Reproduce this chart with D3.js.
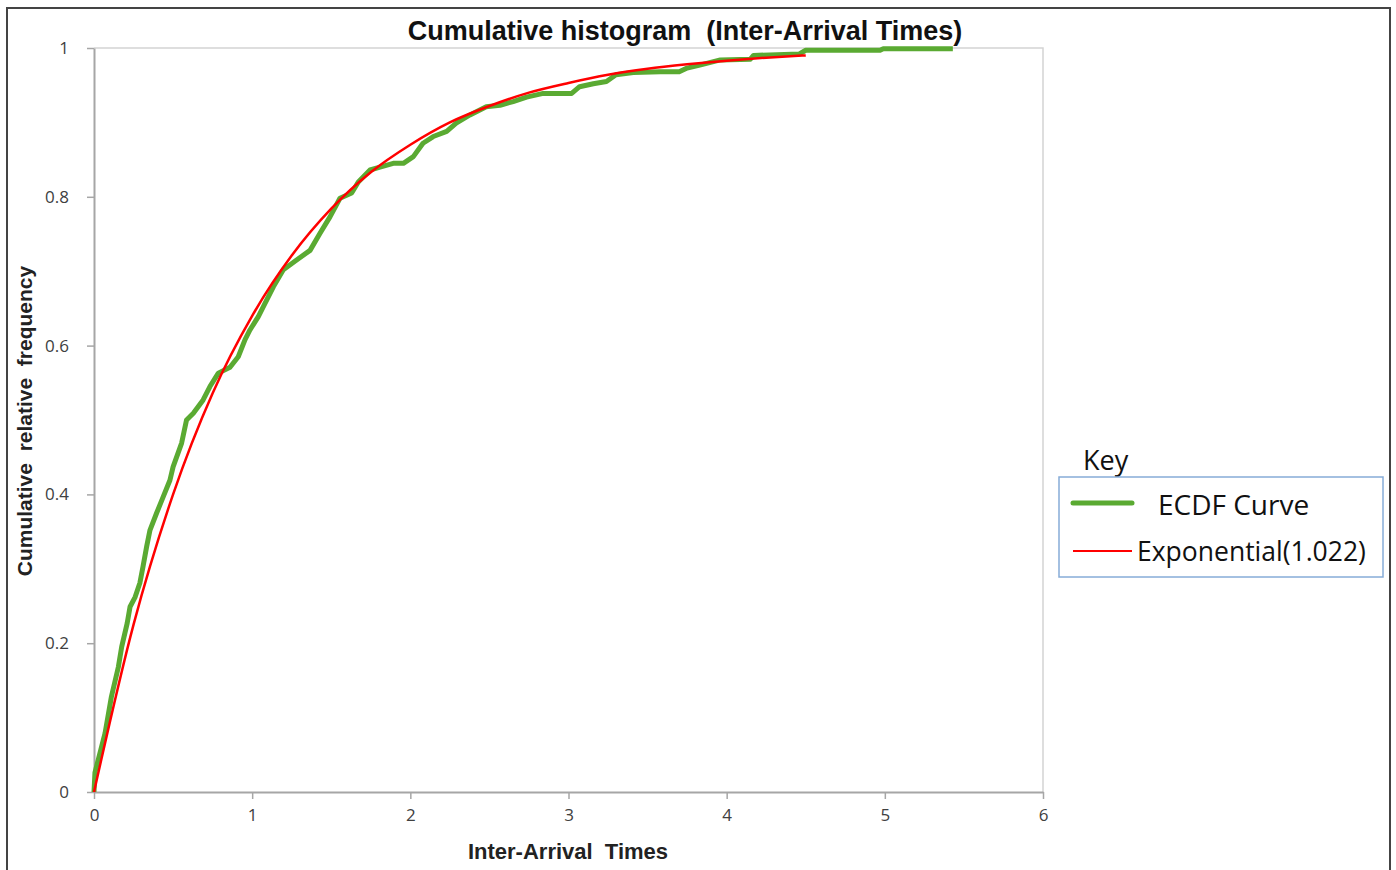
<!DOCTYPE html>
<html>
<head>
<meta charset="utf-8">
<script src="https://cdn.jsdelivr.net/npm/d3@7"></script>
<style>
  body { margin: 0; background: #fff; }
  svg { display: block; }
  text { white-space: pre; }
</style>
</head>
<body>
<svg width="1396" height="870"></svg>
<script>
// ECDF (x, cumulative frequency)
var ecdfX = [0, 0.006, 0.07, 0.11, 0.154, 0.175, 0.21, 0.228, 0.26, 0.29, 0.31, 0.333, 0.354, 0.396, 0.438, 0.48,
    0.50, 0.554, 0.585, 0.628, 0.69, 0.733, 0.786, 0.86, 0.912, 0.955, 0.986, 1.039, 1.07, 1.134, 1.197,
    1.281, 1.366, 1.429, 1.492, 1.555, 1.629, 1.671, 1.745, 1.808, 1.892, 1.956, 2.019, 2.08, 2.145, 2.23,
    2.29, 2.377, 2.48, 2.567, 2.65, 2.735, 2.84, 3.02, 3.07, 3.157, 3.24, 3.30, 3.41, 3.58, 3.70, 3.75,
    3.83, 3.96, 4.15, 4.17, 4.46, 4.50, 4.97, 4.99, 5.43];
var ecdfY = [0, 0.026, 0.079, 0.128, 0.168, 0.195, 0.227, 0.249, 0.262, 0.281, 0.303, 0.33, 0.352, 0.375, 0.397, 0.419,
    0.437, 0.469, 0.5, 0.509, 0.527, 0.545, 0.563, 0.571, 0.585, 0.608, 0.621, 0.639, 0.652, 0.679, 0.702,
    0.715, 0.728, 0.751, 0.773, 0.798, 0.805, 0.82, 0.836, 0.84, 0.845, 0.845, 0.854, 0.872, 0.881, 0.888,
    0.899, 0.91, 0.921, 0.923, 0.928, 0.934, 0.939, 0.939, 0.948, 0.952, 0.955, 0.964, 0.967, 0.968, 0.968, 0.973,
    0.977, 0.984, 0.985, 0.99, 0.992, 0.997, 0.997, 0.999, 0.999];

// fitted exponential curve
var expX = [0, 0.25, 0.5, 0.75, 1, 1.25, 1.5, 1.75, 2, 2.25, 2.5, 2.75, 3, 3.25, 3.5, 3.75, 4, 4.25, 4.5];
var expY = [0, 0.225, 0.40, 0.536, 0.640, 0.721, 0.784, 0.833, 0.870, 0.900, 0.922, 0.940, 0.953, 0.964, 0.972, 0.978, 0.983, 0.987, 0.990];

var xTicks = [0, 1, 2, 3, 4, 5, 6];
var yTicks = [0, 0.2, 0.4, 0.6, 0.8, 1];

var svg = d3.select("svg");
var plotL = 94, plotR = 1043, plotT = 48, plotB = 792;

var x = d3.scaleLinear().domain([0, 6]).range([plotL, plotR]);
var y = d3.scaleLinear().domain([0, 1]).range([plotB, plotT]);

// outer frame
svg.append("path")
    .attr("d", "M7,870 V8 H1390 V870")
    .attr("fill", "none")
    .attr("stroke", "#444")
    .attr("stroke-width", 2);

// plot frame (top/right)
svg.append("path")
    .attr("d", "M" + plotL + "," + plotT + " H" + plotR + " V" + plotB)
    .attr("fill", "none")
    .attr("stroke", "#d4d4d4")
    .attr("stroke-width", 1.5);

var xAxis = svg.append("g")
    .attr("transform", "translate(0," + plotB + ")")
    .call(d3.axisBottom(x).tickValues(xTicks).tickSize(7).tickPadding(10).tickSizeOuter(0).tickFormat(d3.format("d")));
var yAxis = svg.append("g")
    .attr("transform", "translate(" + plotL + ",0)")
    .call(d3.axisLeft(y).tickValues(yTicks).tickSize(7).tickPadding(18).tickSizeOuter(0)
        .tickFormat(function(d) { return d === 0 || d === 1 ? d : d.toFixed(1); }));

[xAxis, yAxis].forEach(function(g) {
    g.attr("font-size", null).attr("font-family", null);
    g.select(".domain").attr("stroke", "#a6a6a6").attr("stroke-width", 2);
    g.selectAll(".tick line").attr("stroke", "#a6a6a6").attr("stroke-width", 1.5);
    g.selectAll(".tick text")
        .attr("fill", "#404040")
        .style("font-family", "'Open Sans', sans-serif")
        .style("font-size", "17px");
});

var ecdf = ecdfX.map(function(d, i) { return [d, ecdfY[i]]; });
var expo = expX.map(function(d, i) { return [d, expY[i]]; });

var line = d3.line()
    .x(function(d) { return x(d[0]); })
    .y(function(d) { return y(d[1]); });

svg.append("path")
    .attr("d", line.curve(d3.curveLinear)(ecdf))
    .attr("fill", "none")
    .attr("stroke", "#5aaa32")
    .attr("stroke-width", 5)
    .attr("stroke-linejoin", "round");

svg.append("path")
    .attr("d", line.curve(d3.curveMonotoneX)(expo))
    .attr("fill", "none")
    .attr("stroke", "#ff0000")
    .attr("stroke-width", 2.5);

// titles
svg.append("text")
    .attr("x", 685).attr("y", 40)
    .attr("text-anchor", "middle")
    .style("font-family", "'Liberation Sans', Arial, sans-serif")
    .style("font-weight", "bold")
    .style("font-size", "27px")
    .attr("fill", "#111")
    .text("Cumulative histogram  (Inter-Arrival Times)");

svg.append("text")
    .attr("x", 568).attr("y", 859)
    .attr("text-anchor", "middle")
    .style("font-family", "'Liberation Sans', Arial, sans-serif")
    .style("font-weight", "bold")
    .style("font-size", "22px")
    .attr("fill", "#222")
    .text("Inter-Arrival  Times");

svg.append("text")
    .attr("transform", "translate(32,421) rotate(-90)")
    .attr("text-anchor", "middle")
    .style("font-family", "'Liberation Sans', Arial, sans-serif")
    .style("font-weight", "bold")
    .style("font-size", "21px")
    .attr("fill", "#222")
    .text("Cumulative  relative  frequency");

// legend
var legend = svg.append("g");
legend.append("text")
    .attr("x", 1083).attr("y", 470)
    .style("font-family", "'Open Sans', sans-serif")
    .style("font-size", "27px")
    .attr("fill", "#111")
    .text("Key");
legend.append("rect")
    .attr("x", 1059).attr("y", 477)
    .attr("width", 324).attr("height", 100)
    .attr("fill", "#fff")
    .attr("stroke", "#86acd8")
    .attr("stroke-width", 1.5);
legend.append("line")
    .attr("x1", 1073).attr("x2", 1132).attr("y1", 503).attr("y2", 503)
    .attr("stroke", "#5aaa32").attr("stroke-width", 5).attr("stroke-linecap", "round");
legend.append("text")
    .attr("x", 1158).attr("y", 515)
    .style("font-family", "'Open Sans', sans-serif")
    .style("font-size", "28px")
    .attr("fill", "#111")
    .text("ECDF Curve");
legend.append("line")
    .attr("x1", 1073).attr("x2", 1132).attr("y1", 551).attr("y2", 551)
    .attr("stroke", "#ff0000").attr("stroke-width", 2);
legend.append("text")
    .attr("x", 1137).attr("y", 561)
    .style("font-family", "'Open Sans', sans-serif")
    .style("font-size", "26.5px")
    .attr("fill", "#111")
    .text("Exponential(1.022)");
</script>
</body>
</html>
